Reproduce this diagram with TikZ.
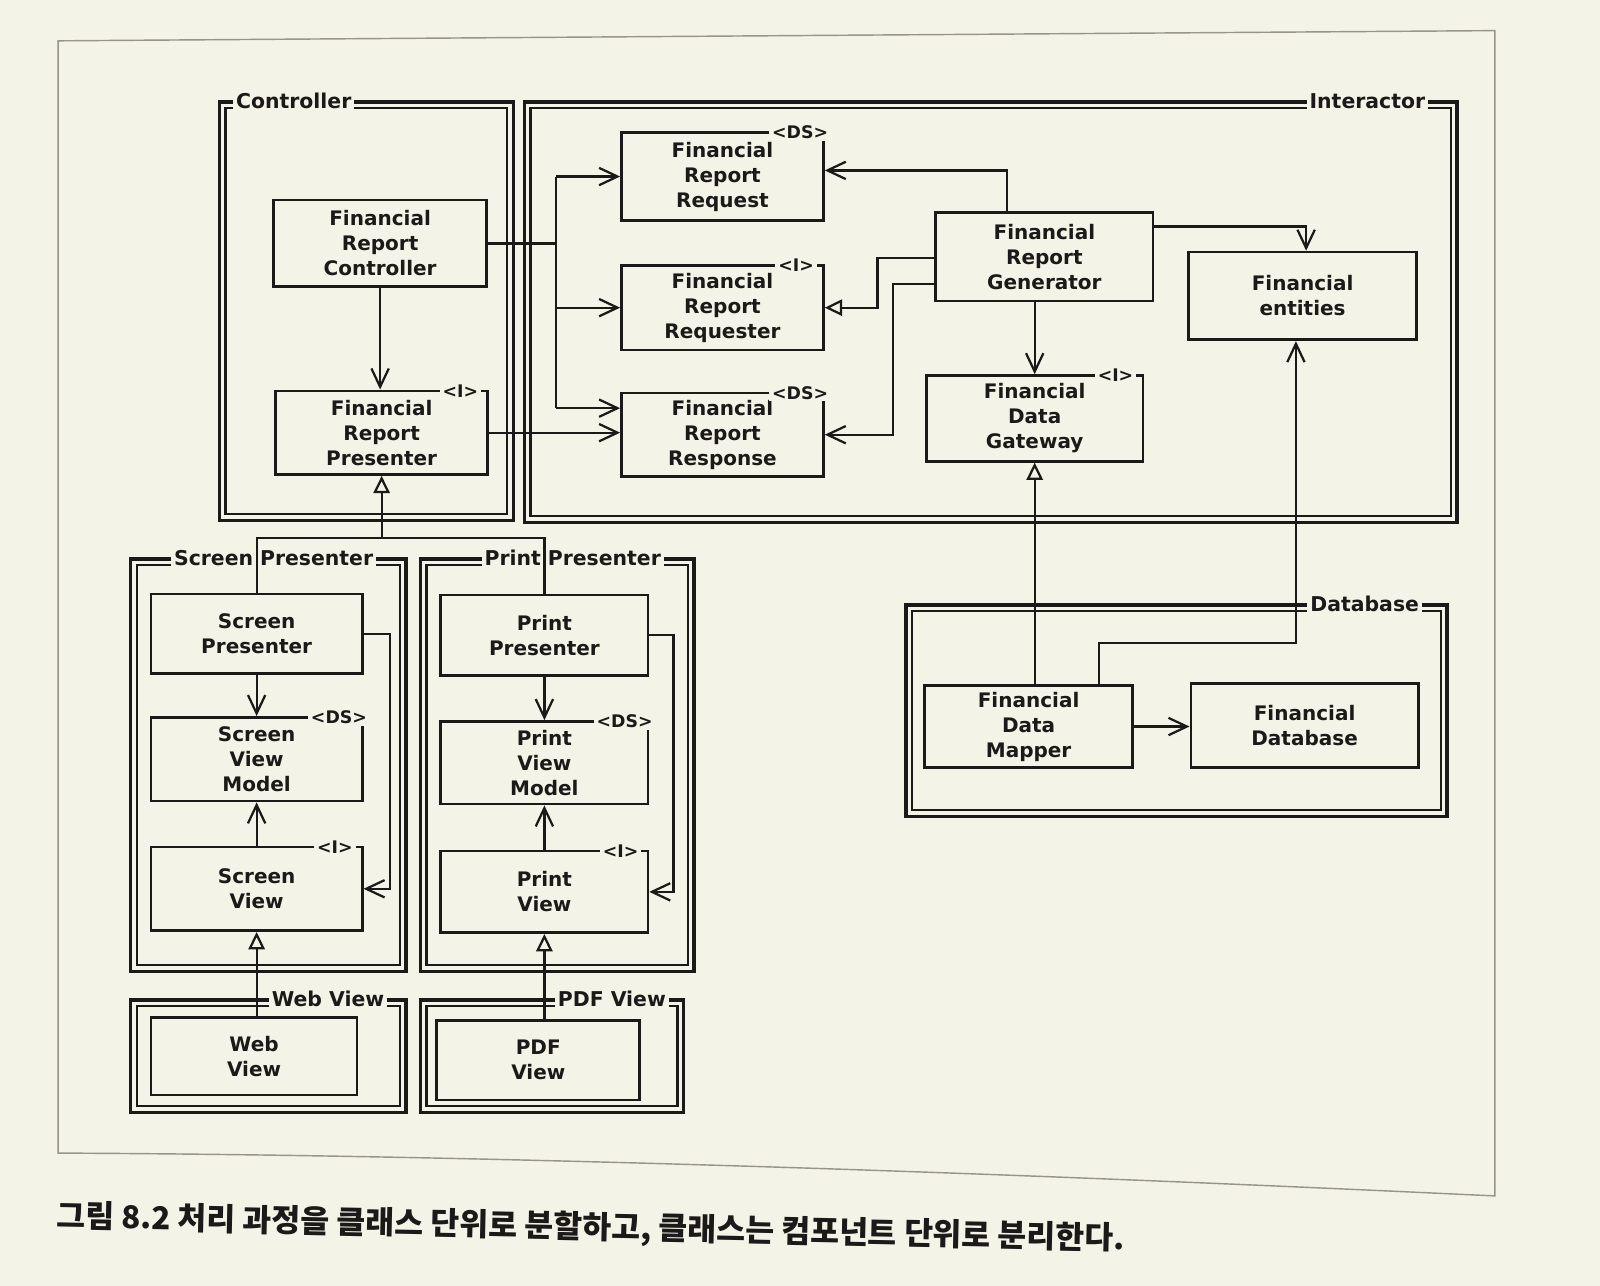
\documentclass[tikz,border=0pt]{standalone}
\usepackage{fontspec}
\setmainfont{DejaVu Sans}
\newfontfamily\kfont{Noto Sans CJK KR}
\usetikzlibrary{arrows.meta,fit}
\definecolor{paper}{RGB}{244,243,231}
\definecolor{ink}{RGB}{28,26,24}
\definecolor{pageline}{RGB}{150,148,140}
\tikzset{
  box/.style={draw=ink, line width=1.3pt, inner sep=0pt, align=center, text=ink, font=\bfseries\fontsize{9.8}{12.25}\selectfont},
  stereo/.style={fill=paper, inner xsep=1.5pt, inner ysep=1pt, text=ink, font=\bfseries\fontsize{8.5}{9}\selectfont},
  compo/.style={draw=ink, line width=1.7pt, inner sep=0pt},
  compi/.style={draw=ink, line width=1.1pt},
  clabel/.style={fill=paper, inner xsep=1.5pt, inner ysep=1.5pt, text height=8pt, text depth=2pt, text=ink, font=\bfseries\fontsize{10}{12}\selectfont},
  conn/.style={draw=ink, line width=1.1pt},
  arr/.style={conn, -{Straight Barb[length=9pt, width=8.5pt]}},
  real/.style={conn, -{Triangle[open, length=8.5pt, width=8pt]}},
}
\newcommand\compframe[5]{%
  \node[compo, fit={(#2,#3) (#4,#5)}] (#1) {};
  \draw[compi] ({#2+6},{#3+6}) rectangle ({#4-6},{#5-6});}
\newcommand\klass[6]{\node[box, minimum width={(#4-#2)*0.5pt}, minimum height={(#5-#3)*0.5pt}] (#1) at ({(#2+#4)/2},{(#3+#5)/2}) {#6};}
\begin{document}
\begin{tikzpicture}[x=0.5pt,y=-0.5pt]
\fill[paper] (0,0) rectangle (1568,1260);
\useasboundingbox (0,0) rectangle (1568,1260);
\draw[pageline, line width=0.7pt] (57,40) -- (1465,30) -- (1465,1172) .. controls (1000,1150) and (500,1132) .. (57,1130) -- cycle;

% component frames
\compframe{cctl}{215}{100}{503}{510}
\compframe{cint}{514}{100}{1428}{512}
\compframe{cdb}{888}{593}{1418}{800}
\compframe{cscr}{128}{548}{398}{952}
\compframe{cprt}{412}{548}{680}{952}
\compframe{cweb}{128}{980}{398}{1090}
\compframe{cpdf}{412}{980}{670}{1090}

% component labels
\node[clabel, anchor=west] (lctl) at (228,100) {Controller};
\node[clabel, anchor=east] (lint) at (1400,100) {Interactor};
\node[clabel, anchor=east] (ldb) at (1394,593) {Database};
\node[clabel, anchor=east] (lscrA) at (251.5,548) {Screen};
\node[clabel, anchor=west] (lscrB) at (251.5,548) {Presenter};
\node[clabel, anchor=east] (lprtA) at (533.5,548) {Print};
\node[clabel, anchor=west] (lprtB) at (533.5,548) {Presenter};
\node[clabel, anchor=east] (lweb) at (380,980) {Web View};
\node[clabel, anchor=east] (lpdf) at (656,980) {PDF View};

% classes
\klass{frc}{268}{196}{477}{281}{Financial\\Report\\Controller}
\klass{frp}{270}{383}{478}{465}{Financial\\Report\\Presenter}
\klass{req}{609}{130}{807}{216}{Financial\\Report\\Request}
\klass{rqr}{609}{260}{807}{343}{Financial\\Report\\Requester}
\klass{resp}{609}{385}{807}{467}{Financial\\Report\\Response}
\klass{gen}{917}{208}{1130}{295}{Financial\\Report\\Generator}
\klass{ent}{1165}{247}{1388}{333}{Financial\\entities}
\klass{gw}{908}{368}{1120}{452}{Financial\\Data\\Gateway}
\klass{map}{906}{672}{1110}{752}{Financial\\Data\\Mapper}
\klass{fdb}{1167}{670}{1390}{752}{Financial\\Database}
\klass{sp}{148}{582}{355}{660}{Screen\\Presenter}
\klass{svm}{148}{703}{355}{785}{Screen\\View\\Model}
\klass{sv}{148}{830}{355}{912}{Screen\\View}
\klass{pp}{432}{583}{635}{662}{Print\\Presenter}
\klass{pvm}{432}{707}{635}{788}{Print\\View\\Model}
\klass{pv}{432}{834}{635}{914}{Print\\View}
\klass{wv}{148}{997}{350}{1073}{Web\\View}
\klass{pdf}{428}{1000}{627}{1078}{PDF\\View}

% stereotypes
\node[stereo, anchor=east] (sreq) at (815,130) {<DS>};
\node[stereo, anchor=east] (srqr) at (801,260) {<I>};
\node[stereo, anchor=east] (sresp) at (815,385) {<DS>};
\node[stereo, anchor=east] (sgw) at (1114,368) {<I>};
\node[stereo, anchor=east] (sfrp) at (472,383) {<I>};
\node[stereo, anchor=east] (ssvm) at (363,703) {<DS>};
\node[stereo, anchor=east] (ssv) at (349,830) {<I>};
\node[stereo, anchor=east] (spvm) at (643,707) {<DS>};
\node[stereo, anchor=east] (spv) at (629,834) {<I>};

% controller -> interactor
\coordinate (tk1) at (545,173);
\coordinate (tk3) at (545,400);
\draw[conn] (frc.east) -- (frc.east -| tk1);
\draw[conn] (tk1) -- (tk3);
\draw[arr] (tk1) -- (tk1 -| req.west);
\draw[arr] (tk1 |- rqr.west) -- (rqr.west);
\draw[arr] (tk3) -- (tk3 -| resp.west);
\draw[arr] (frc.south) -- (frc.south |- frp.north);
\draw[arr] (frp.east) -- (frp.east -| resp.west);

% generator
\coordinate (g1) at (987,167);
\draw[arr] (g1 |- gen.north) -- (g1) -- (g1 -| req.east);
\coordinate (g2) at (860,253);
\draw[real] (g2 -| gen.west) -- (g2) -- (g2 |- rqr.east) -- (rqr.east);
\coordinate (g3) at (875,278);
\draw[arr] (g3 -| gen.west) -- (g3) -- (g3 |- resp.east) -- (resp.east);
\coordinate (g4) at (1280,222);
\draw[arr] (g4 -| gen.east) -- (g4) -- (g4 |- ent.north);
\draw[arr] (gen.south -| gw.north) -- (gw.north);

% database
\draw[real] (gw.south |- map.north) -- (gw.south);
\coordinate (m1) at (1077,630);
\coordinate (m2) at (1270,630);
\draw[arr] (m1 |- map.north) -- (m1) -- (m2) -- (m2 |- ent.south);
\draw[arr] (map.east) -- (map.east -| fdb.west);

% presenters
\coordinate (pb) at (0,527);
\draw[real] (frp.south |- pb) -- (frp.south);
\draw[conn] (sp.north) -- (sp.north |- pb) -- (pp.north |- pb) -- (pp.north);
\coordinate (sx) at (382,0);
\draw[arr] (sp.south) -- (svm.north);
\draw[arr] (sv.north) -- (svm.south);
\draw[arr] (sp.east) -- (sp.east -| sx) -- (sv.east -| sx) -- (sv.east);
\coordinate (px) at (660,0);
\draw[arr] (pp.south) -- (pvm.north);
\draw[arr] (pv.north) -- (pvm.south);
\draw[arr] (pp.east) -- (pp.east -| px) -- (pv.east -| px) -- (pv.east);
\draw[real] (sv.south |- wv.north) -- (sv.south);
\draw[real] (pv.south |- pdf.north) -- (pv.south);

% caption
\node[anchor=west, rotate=-1.2, inner sep=0pt, text=ink, font=\kfont\bfseries\fontsize{15.4}{17}\selectfont] (cap) at (55,1193) {그림 8.2 처리 과정을 클래스 단위로 분할하고, 클래스는 컴포넌트 단위로 분리한다.};
\end{tikzpicture}
\end{document}
